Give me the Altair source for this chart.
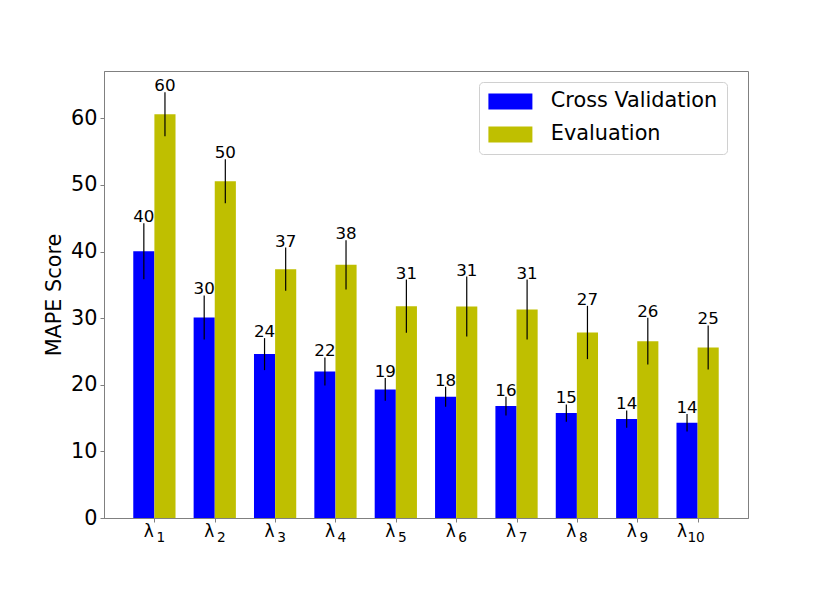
import json
import altair as alt
import pandas as pd

# ---- data ----
subscripts = ["1", "2", "3", "4", "5", "6", "7", "8", "9", "10"]
series_names = ["Cross Validation", "Evaluation"]
cv_values = [40.05, 30.1, 24.6, 22.0, 19.3, 18.2, 16.8, 15.75, 14.85, 14.3]
cv_errors = [4.2, 3.3, 2.4, 2.1, 1.7, 1.5, 1.4, 1.3, 1.3, 1.3]
ev_values = [60.6, 50.55, 37.35, 38.0, 31.8, 31.75, 31.3, 27.85, 26.55, 25.6]
ev_errors = [3.3, 3.3, 3.25, 3.7, 4.0, 4.5, 4.5, 4.0, 3.5, 3.3]
y_ticks = [0, 10, 20, 30, 40, 50, 60]

# ---- styling ----
BAR_W = 0.35
series_colors = ["#0000ff", "#bfbf00"]
FONT = "DejaVu Sans"
GRAY = "#808080"

rows = []
for i in range(len(subscripts)):
    for s, (vals, errs) in enumerate([(cv_values, cv_errors), (ev_values, ev_errors)]):
        v, e = vals[i], errs[i]
        left = i - BAR_W if s == 0 else i
        rows.append(dict(idx=i, series=series_names[s], value=v, err=e,
                         x0=left, x1=left + BAR_W, xc=left + BAR_W / 2,
                         lo=v - e, hi=v + e, label=str(int(v))))
df = pd.DataFrame(rows)

n = len(subscripts)
x_scale = alt.Scale(domain=[-BAR_W - 0.485, n - 1 + BAR_W + 0.485], nice=False, zero=False)
y_scale = alt.Scale(domain=[0, 67.1], nice=False)

sub_js = json.dumps(subscripts)
two_digit = f"length({sub_js}[datum.value]) > 1"

# main "λ" part of the tick labels
x_axis = alt.Axis(values=list(range(n)), labelExpr="'λ'", orient="bottom",
                  title=None, grid=False, labelFontSize=17, labelFont=FONT, labelColor="black",
                  tickColor=GRAY, tickSize=4, domainColor=GRAY, labelBaseline="alphabetic",
                  labelPadding=14,
                  labelOffset={"condition": {"test": two_digit, "value": -16}, "value": -6})
# subscript part of the tick labels
x_axis_sub = alt.Axis(values=list(range(n)), labelExpr=f"{sub_js}[datum.value]", orient="bottom",
                      title=None, grid=False, labelFontSize=13.7, labelFont=FONT, labelColor="black",
                      ticks=False, domain=False, labelBaseline="alphabetic", labelPadding=23.7,
                      labelOffset={"condition": {"test": two_digit, "value": -2}, "value": 6})
y_axis = alt.Axis(values=y_ticks, title="MAPE Score", grid=False, labelFontSize=20.8, labelFont=FONT,
                  labelColor="black", tickColor=GRAY, tickSize=4, domainColor=GRAY, labelPadding=3,
                  titleFontSize=20.8, titleFont=FONT, titleFontWeight="normal", titleColor="black",
                  titlePadding=6)

base = alt.Chart(df)

bars = base.mark_bar().encode(
    x=alt.X("x0:Q", scale=x_scale, axis=x_axis),
    x2="x1:Q",
    y=alt.Y("value:Q", scale=y_scale, axis=y_axis),
    y2=alt.datum(0),
    color=alt.Color("series:N",
                    scale=alt.Scale(domain=series_names, range=series_colors),
                    legend=alt.Legend(orient="none", legendX=375, legendY=11, title=None,
                                      fillColor="white", strokeColor="#d0d0d0", cornerRadius=4,
                                      padding=9, symbolType="M-2.75,-1H2.75V1H-2.75Z", symbolSize=256,
                                      symbolOffset=12, symbolStrokeWidth=0, symbolOpacity=1,
                                      labelFontSize=20.8, labelFont=FONT, labelColor="black",
                                      labelOffset=30, labelLimit=400, rowPadding=11)),
)

errs = base.mark_rule(color="black", strokeWidth=1.2).encode(
    x=alt.X("xc:Q", scale=x_scale, axis=None),
    y=alt.Y("lo:Q", scale=y_scale, axis=y_axis),
    y2="hi:Q",
)

labels = base.mark_text(baseline="alphabetic", dy=-1, fontSize=16.7, font=FONT, color="black").encode(
    x=alt.X("xc:Q", scale=x_scale, axis=None),
    y=alt.Y("hi:Q", scale=y_scale, axis=y_axis),
    text="label:N",
)

sub_layer = base.mark_point(opacity=0).encode(
    x=alt.X("xc:Q", scale=x_scale, axis=x_axis_sub),
)

chart = alt.layer(bars, errs, labels, sub_layer).resolve_axis(x="independent").properties(
    width=644, height=447,
    autosize=alt.AutoSizeParams(type="none"),
    padding={"left": 96, "top": 63, "right": 74, "bottom": 67},
).configure_view(stroke=GRAY, strokeWidth=1)

chart.save("out.html", embed_options={"renderer": "svg", "actions": False})
